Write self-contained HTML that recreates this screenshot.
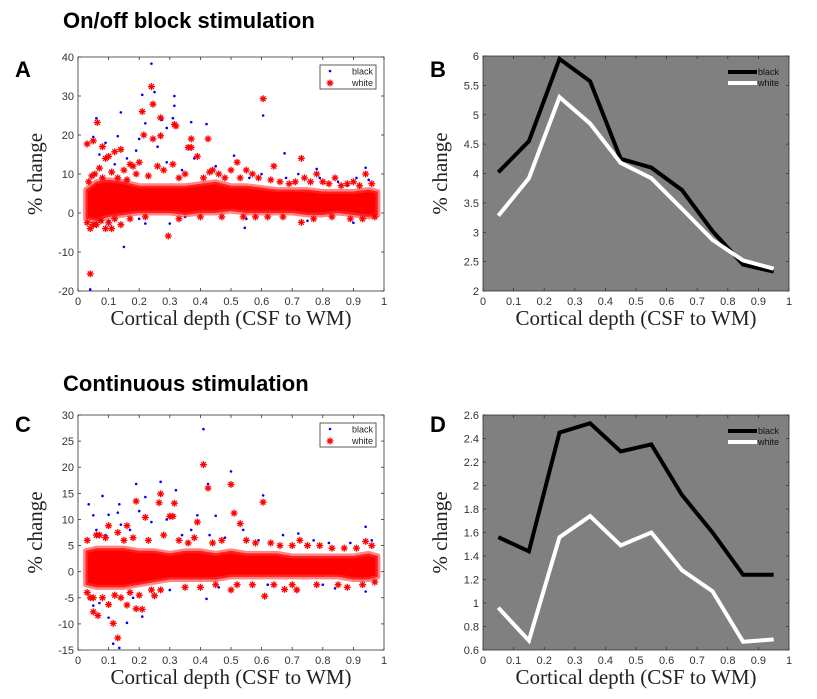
<!DOCTYPE html>
<html><head><meta charset="utf-8"><style>
body{margin:0;background:#fff;}
svg{display:block;font-family:"Liberation Sans",Arial,sans-serif;}
.tick{font-size:11px;fill:#333;}
.ser{font-family:"Liberation Serif",serif;font-size:21px;fill:#222;}
</style></head><body>
<svg id="fig" width="817" height="699">
<text x="63" y="28" font-size="22" font-weight="bold">On/off block stimulation</text>
<text x="63" y="391" font-size="22" font-weight="bold">Continuous stimulation</text>
<text x="15" y="77" font-size="22" font-weight="bold">A</text>
<text x="430" y="77" font-size="22" font-weight="bold">B</text>
<text x="15" y="432" font-size="22" font-weight="bold">C</text>
<text x="430" y="432" font-size="22" font-weight="bold">D</text>
</svg>
<script>
// ---- data ----
const lineX = [0.05,0.15,0.25,0.35,0.45,0.55,0.65,0.75,0.85,0.95];
const bBlack = [4.02,4.55,5.95,5.57,4.25,4.1,3.72,3.02,2.45,2.33];
const bWhite = [3.28,3.92,5.3,4.85,4.18,3.92,3.4,2.87,2.52,2.38];
const dBlack = [1.56,1.44,2.45,2.53,2.29,2.35,1.92,1.6,1.24,1.24];
const dWhite = [0.96,0.68,1.56,1.74,1.49,1.6,1.28,1.1,0.67,0.69];
const bandX = [0.025,0.06,0.1,0.15,0.2,0.25,0.3,0.35,0.4,0.45,0.5,0.55,0.6,0.65,0.7,0.75,0.8,0.85,0.9,0.95,0.98];
const aBandLo = [-1.5,-2,-1,-0.5,0,0,0,-0.5,0,0,0.5,0,0,0,0,-0.5,-0.5,0,-0.5,-1,-0.5];
const aBandHi = [6,8,8.5,8,7,7,7,7,7.5,8,7,7,6.5,6,6,6,5.5,5.5,5.5,6,5.5];
const cBandLo = [-2.5,-3,-3,-3,-2.5,-2,-1.5,-1.5,-1.5,-1.5,-1,-1,-1,-1,-1,-1,-1,-1,-1.5,-1.5,-1];
const cBandHi = [4,4.5,4.5,4.5,4,4,3.5,4,4,3.5,4,3.5,3.5,3.5,3,3,3,3,3,3.5,3];
const aRedX = [0.03,0.05,0.063,0.04,0.09,0.1,0.12,0.14,0.21,0.24,0.245,0.245,0.27,0.27,0.215,0.315,0.32,0.36,0.37,0.37,0.425,0.295,0.605,0.73,0.05,0.09,0.04,0.11,0.14,0.73,0.62,0.5,0.52,0.55,0.08,0.17,0.64,0.78,0.84,0.94,
 0.035,0.045,0.055,0.07,0.08,0.11,0.13,0.15,0.16,0.18,0.19,0.2,0.23,0.26,0.28,0.31,0.33,0.35,0.39,0.41,0.43,0.44,0.46,0.48,0.53,0.57,0.59,0.63,0.66,0.69,0.71,0.74,0.76,0.8,0.82,0.86,0.88,0.9,0.92,0.96,
 0.03,0.06,0.075,0.1,0.12,0.17,0.22,0.33,0.4,0.47,0.54,0.58,0.67,0.77,0.83,0.89,0.93,0.97];
const aRedY = [17.7,18.5,23.2,-15.6,14,14.5,15.7,16.3,26,32.4,27.9,19,24.4,19.8,20,22.7,22.3,16.8,19,16.8,19,-5.9,29.3,14,-3,-4,-4,-4,-3,-2.4,-1,11,13,11,17,12.5,12,10,9,10,
 8,9.5,10,11.5,9,10.5,9,11,8.5,12,10,13,9.5,12,11,12.5,9,10,14.5,9,10.5,11,10,9,9,10,9,8.5,8,7.5,8,9,8,8,7.5,7,7.5,8,7,7.5,
 -2.5,-3,-2,-2.5,-1.5,-1.5,-1,-1.5,-1,-1,-1,-1,-1,-1.5,-1,-1.5,-1.5,-1];
const aBlueX = [0.24,0.21,0.25,0.315,0.315,0.22,0.275,0.14,0.06,0.37,0.42,0.605,0.04,0.15,0.545,0.675,0.31,0.29,0.13,0.05,0.2,0.78,0.94,0.3,0.22,0.88,0.51,
 0.07,0.09,0.12,0.16,0.19,0.26,0.29,0.34,0.38,0.45,0.5,0.56,0.6,0.68,0.72,0.79,0.85,0.91,0.95,0.1,0.2,0.35,0.55,0.75,0.9];
const aBlueY = [38.3,30.3,31,30,27.5,23,23.9,25.8,24.3,23.3,22.8,25,-19.6,-8.7,-3.8,15.3,24.3,21.8,19.7,19.5,19,11.3,11.6,-2.7,-2.7,7,14.7,
 15,18,12.5,14,16,17,13,11,14,12,11,9,10,9,10,9,8,9,8.5,-2,-1.5,-1,-1.5,-2,-2.5];
const cRedX = [0.41,0.5,0.425,0.605,0.27,0.265,0.315,0.19,0.3,0.31,0.22,0.51,0.53,0.39,0.115,0.13,0.065,0.05,0.1,0.16,0.19,0.21,0.61,0.25,0.04,0.5,0.675,0.715,0.88,0.07,0.1,0.16,0.725,0.94,
 0.03,0.06,0.09,0.13,0.15,0.18,0.23,0.28,0.33,0.36,0.38,0.44,0.47,0.55,0.58,0.63,0.66,0.7,0.75,0.79,0.83,0.87,0.91,0.96,
 0.03,0.05,0.08,0.12,0.14,0.17,0.2,0.24,0.27,0.35,0.4,0.45,0.52,0.57,0.64,0.7,0.78,0.85,0.93,0.97];
const cRedY = [20.5,16.7,16,13.3,14.9,13.2,13.1,13.5,10.6,10.6,10.4,11.2,9.2,9.5,-9.9,-12.7,-8.4,-7.7,-6.3,-6.4,-7.1,-7.2,-4.7,-4.6,-5,-3.5,-3.4,-3.5,-3,7,8.8,8.8,6,5.8,
 6,7,6.5,7.5,6,6.5,6,7,6,5.5,6.5,5.5,6,6,5.5,5.5,5,5,5,5,4.5,4.5,4.5,5,
 -4,-5,-5,-4.5,-5,-4,-4.5,-3.5,-3.5,-3,-3,-2.5,-2.5,-2.5,-2.5,-2.5,-2.5,-2.5,-2.5,-2];
const cBlueX = [0.41,0.5,0.425,0.27,0.19,0.32,0.605,0.08,0.22,0.035,0.135,0.13,0.1,0.05,0.2,0.45,0.39,0.94,0.135,0.115,0.1,0.16,0.21,0.42,0.05,0.94,0.84,
 0.06,0.09,0.14,0.17,0.24,0.29,0.34,0.37,0.43,0.48,0.54,0.59,0.67,0.72,0.77,0.82,0.89,0.96,0.07,0.18,0.3,0.46,0.62,0.8];
const cBlueY = [27.3,19.2,16.8,17.2,16.8,15.6,14.6,14.5,14.3,12.9,12.9,11.3,10.9,10.8,11.6,10.7,10.8,8.6,-14.6,-13.8,-8.8,-9.8,-8.6,-5.2,-6.5,-3.8,-3.2,
 8,7,9,8,9.5,10,7,8,7,6.5,8,6,7,7.3,6,5.5,5.5,6,-6,-5,-3.5,-3,-2.5,-2.5];
const xTicks = [0,0.1,0.2,0.3,0.4,0.5,0.6,0.7,0.8,0.9,1];
const xTickLabels = ["0","0.1","0.2","0.3","0.4","0.5","0.6","0.7","0.8","0.9","1"];
const aYTicks = [-20,-10,0,10,20,30,40];
const bYTicks = [2,2.5,3,3.5,4,4.5,5,5.5,6];
const bYTickLabels = ["2","2.5","3","3.5","4","4.5","5","5.5","6"];
const cYTicks = [-15,-10,-5,0,5,10,15,20,25,30];
const dYTicks = [0.6,0.8,1,1.2,1.4,1.6,1.8,2,2.2,2.4,2.6];
const dYTickLabels = ["0.6","0.8","1","1.2","1.4","1.6","1.8","2","2.2","2.4","2.6"];

const NS="http://www.w3.org/2000/svg";
const svg=document.getElementById('fig');
function mk(tag,attrs,parent){const e=document.createElementNS(NS,tag);for(const k in attrs)e.setAttribute(k,attrs[k]);(parent||svg).appendChild(e);return e;}

function panel(id,L,R,T,B,ymin,ymax,yt,ytl,bg){
  const g=mk('g',{});
  
  
  const sx=v=>L+(v-0)*(R-L);
  const sy=v=>B-(v-ymin)/(ymax-ymin)*(B-T);
  const bgr=mk('rect',{x:L,y:T,width:R-L,height:B-T,fill:bg},g);
  
  
  const pg=mk('g',{},g);
  const ag=mk('g',{},g);
  xTicks.forEach((v,i)=>{
    const x=sx(v);
    mk('line',{x1:x,x2:x,y1:B,y2:B-3,stroke:'#333','stroke-width':0.8},ag);
    mk('line',{x1:x,x2:x,y1:T,y2:T+3,stroke:'#333','stroke-width':0.8},ag);
    const t=mk('text',{x:x,y:B+14,'text-anchor':'middle',class:'tick'},ag);
    t.textContent=xTickLabels[i];
    
    
  });
  yt.forEach((v,i)=>{
    const y=sy(v);
    mk('line',{x1:L,x2:L+3,y1:y,y2:y,stroke:'#333','stroke-width':0.8},ag);
    mk('line',{x1:R,x2:R-3,y1:y,y2:y,stroke:'#333','stroke-width':0.8},ag);
    const t=mk('text',{x:L-4,y:y+4,'text-anchor':'end',class:'tick'},ag);
    t.textContent=ytl?ytl[i]:String(v);
    
    
  });
  const frame=mk('rect',{x:L,y:T,width:R-L,height:B-T,fill:'none',stroke:'#333','stroke-width':0.8},ag);
  
  
  const xl=mk('text',{x:(L+R)/2,y:B+34,'text-anchor':'middle',class:'ser'},ag);
  xl.textContent='Cortical depth (CSF to WM)';
  
  
  const yx=L-36, yy=(T+B)/2;
  const yl=mk('text',{x:yx,y:yy,'text-anchor':'middle',class:'ser',transform:`rotate(-90 ${yx} ${yy})`},ag);
  yl.textContent='% change';
  
  
  return {sx,sy,pg,g};
}
function star(p,x,y){
  const s=mk('g',{stroke:'#f00','stroke-width':1.3},p.pg);
  
  
  const X=p.sx(x),Y=p.sy(y),r=3.5;
  mk('line',{x1:X-r,x2:X+r,y1:Y,y2:Y},s);
  mk('line',{x1:X,x2:X,y1:Y-r,y2:Y+r},s);
  mk('line',{x1:X-r*.7,x2:X+r*.7,y1:Y-r*.7,y2:Y+r*.7},s);
  mk('line',{x1:X-r*.7,x2:X+r*.7,y1:Y+r*.7,y2:Y-r*.7},s);
}
function dot(p,x,y){
  const c=mk('circle',{cx:p.sx(x),cy:p.sy(y),r:1.3,fill:'#0000ff'},p.pg);
  
  
}
function band(p,lo,hi,name){
  let d='';
  bandX.forEach((x,i)=>{d+=(i?'L':'M')+p.sx(x)+','+p.sy(hi[i]);});
  for(let i=bandX.length-1;i>=0;i--)d+='L'+p.sx(bandX[i])+','+p.sy(lo[i]);
  const b=mk('path',{d:d+'Z',fill:'#f00',stroke:'#f33','stroke-width':5,'stroke-linejoin':'round','stroke-opacity':0.6},p.pg);
  
  
}
function scatter(id,L,R,T,B,ymin,ymax,yt,lo,hi,rx,ry,bx,by){
  const p=panel(id,L,R,T,B,ymin,ymax,yt,null,'#fff');
  bx.forEach((x,i)=>dot(p,x,by[i]));
  band(p,lo,hi,id+'-white-dense-band');
  rx.forEach((x,i)=>star(p,x,ry[i]));
  const lg=mk('g',{},p.g);
  
  
  mk('rect',{x:R-64,y:T+8,width:56,height:24,fill:'#fff',stroke:'#333','stroke-width':0.8},lg);
  mk('circle',{cx:R-54,cy:T+14,r:1.3,fill:'#00f'},lg);
  const s={pg:lg,sx:v=>v,sy:v=>v};
  star(s,R-54,T+26);
  const t1=mk('text',{x:R-11,y:T+17.5,'text-anchor':'end','font-size':9,fill:'#222'},lg);t1.textContent='black';
  const t2=mk('text',{x:R-11,y:T+29,'text-anchor':'end','font-size':9,fill:'#222'},lg);t2.textContent='white';
}
function lines(id,L,R,T,B,ymin,ymax,yt,ytl,k,w){
  const p=panel(id,L,R,T,B,ymin,ymax,yt,ytl,'#808080');
  [[k,'#000','black'],[w,'#fff','white']].forEach(([arr,col,nm])=>{
    const pts=lineX.map((x,i)=>p.sx(x)+','+p.sy(arr[i])).join(' ');
    const l=mk('polyline',{points:pts,fill:'none',stroke:col,'stroke-width':4,'stroke-linejoin':'miter'},p.pg);
    
    
  });
  const lg=mk('g',{},p.g);
  
  
  mk('line',{x1:R-61,x2:R-32,y1:T+16,y2:T+16,stroke:'#000','stroke-width':4},lg);
  mk('line',{x1:R-61,x2:R-32,y1:T+27,y2:T+27,stroke:'#fff','stroke-width':4},lg);
  const t1=mk('text',{x:R-31,y:T+19,'font-size':9,fill:'#111'},lg);t1.textContent='black';
  const t2=mk('text',{x:R-31,y:T+30,'font-size':9,fill:'#111'},lg);t2.textContent='white';
}
scatter('a',78,384,57,291,-20,40,aYTicks,aBandLo,aBandHi,aRedX,aRedY,aBlueX,aBlueY);
lines('b',483,789,56,291,2,6,bYTicks,bYTickLabels,bBlack,bWhite);
scatter('c',78,384,415,650,-15,30,cYTicks,cBandLo,cBandHi,cRedX,cRedY,cBlueX,cBlueY);
lines('d',483,789,415,650,0.6,2.6,dYTicks,dYTickLabels,dBlack,dWhite);
</script>
</body></html>
